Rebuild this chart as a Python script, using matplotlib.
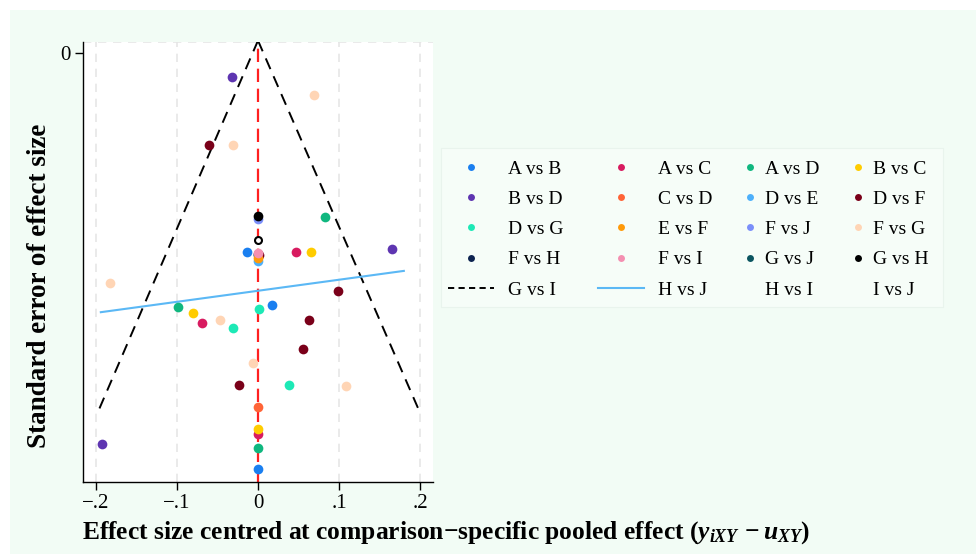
## comparison-adjusted funnel plot
import numpy as np
import matplotlib.pyplot as plt
from matplotlib.lines import Line2D
from matplotlib.patches import Rectangle

plt.rcParams['font.family'] = ['Liberation Serif', 'DejaVu Serif']
plt.rcParams['mathtext.fontset'] = 'custom'
plt.rcParams['mathtext.rm'] = 'Liberation Serif:bold'
plt.rcParams['mathtext.it'] = 'Liberation Serif:italic:bold'

# comparisons: (label, colour, centred effect, standard error)
labels = ["A vs B", "A vs C", "A vs D", "B vs C", "B vs D", "C vs D", "D vs E", "D vs F",
          "D vs G", "E vs F", "F vs J", "F vs G", "F vs H", "F vs I", "G vs J", "G vs H"]
colors = ["#1a7ff0", "#d81b60", "#10b77f", "#ffcc00", "#5e35b1", "#ff6437", "#4db0fb", "#7a0019",
          "#1de9b6", "#ff9a0a", "#7b8ffa", "#ffd5b5", "#0d2350", "#f48fb1", "#0b5560", "#000000"]
# comparisons hidden under others at 0
hidden = ["F vs J", "F vs H", "G vs J"]

x_ab = [-0.0136, 0.0175, 0.0]
se_ab = [0.0559, 0.0708, 0.1169]
x_ac = [0.047, -0.069, 0.0]
se_ac = [0.0559, 0.0758, 0.107]
x_ad = [0.083, -0.099, 0.0]
se_ad = [0.046, 0.0713, 0.111]
x_bc = [0.065, -0.080, 0.0]
se_bc = [0.0559, 0.073, 0.1056]
x_bd = [-0.032, 0.165, -0.192]
se_bd = [0.0067, 0.055, 0.1098]
x_cd = [0.0]
se_cd = [0.0994]
x_de = [0.0]
se_de = [0.0585]
x_df = [-0.061, 0.0015, 0.099, 0.063, 0.056, -0.023]
se_df = [0.0258, 0.0568, 0.0668, 0.075, 0.0831, 0.0933]
x_dg = [0.0015, -0.031, 0.038]
se_dg = [0.0719, 0.0773, 0.0933]
x_ef = [0.0]
se_ef = [0.0575]
x_fj = [0.0]
se_fj = [0.0466]
x_fg = [0.069, -0.031, -0.183, -0.047, -0.006, 0.109]
se_fg = [0.0118, 0.0258, 0.0646, 0.075, 0.0871, 0.0935]
x_fh = [0.0]
se_fh = [0.0565]
x_fi = [0.0]
se_fi = [0.0563]
x_gj = [0.0]
se_gj = [0.0566]
x_gh = [0.0]
se_gh = [0.0458]
xs = [x_ab, x_ac, x_ad, x_bc, x_bd, x_cd, x_de, x_df, x_dg, x_ef, x_fj, x_fg, x_fh, x_fi, x_gj, x_gh]
ses = [se_ab, se_ac, se_ad, se_bc, se_bd, se_cd, se_de, se_df, se_dg, se_ef, se_fj, se_fg, se_fh, se_fi, se_gj, se_gh]

# hollow marker
x_open = [0.0]
se_open = [0.0525]

# pseudo 95% limits and fitted line
se_top = -0.0035
se_max = 0.1
line_x = [-0.194, 0.180]
line_se = [0.0728, 0.0612]

fig = plt.figure(figsize=(9.76, 5.54), dpi=100, facecolor="white")
fig.patches.append(Rectangle((10 / 976, 0), 1, 1 - 10 / 554, transform=fig.transFigure,
                             facecolor="#f2fcf5", edgecolor="none", zorder=-10))
ax = fig.add_axes([83 / 976, 1 - 482 / 554, 350 / 976, 440 / 554])
ax.set_facecolor("white")

for xv in [-0.2, -0.1, 0.1, 0.2]:
    ax.axvline(xv, color="#e6e6e6", lw=1.2, ls=(0, (5, 4)), zorder=0)
ax.axhline(se_top + 0.0004, color="#e6e6e6", lw=1.2, ls=(0, (5, 4)), zorder=0)

se_f = np.array([se_top, se_max])
ax.plot(-1.96 * (se_f - se_top) * se_max / (se_max - se_top), se_f, color="black", ls=(0, (6, 4)), lw=1.4)
ax.plot(1.98 * (se_f - se_top) * se_max / (se_max - se_top), se_f, color="black", ls=(0, (6, 4)), lw=1.4)
ax.axvline(0, color="#ff2020", ls=(0, (6, 3)), lw=1.6, zorder=1)

for lab, c, xv, sv in zip(labels, colors, xs, ses):
    z = 2.5 if lab in hidden else 3
    ax.plot(xv, sv, "o", color=c, ms=7, mec="none", zorder=z)
ax.plot(x_open, se_open, "o", mfc="white", mec="black", mew=1.5, ms=5, zorder=4)
ax.plot(line_x, line_se, color="#5bb8f5", lw=1.5, zorder=2)

ax.set_xlim(-0.216, 0.216)
ax.set_ylim(0.1205, -0.0031)
ax.set_xticks([-0.2, -0.1, 0, 0.1, 0.2])
ax.set_xticklabels(["\u2212.2", "\u2212.1", "0", ".1", ".2"])
ax.set_yticks([0])
ax.set_yticklabels(["0"])
ax.tick_params(labelsize=15, length=6, width=1, direction="out", pad=3)
for s in ["top", "right"]:
    ax.spines[s].set_visible(False)
ax.spines["left"].set_linewidth(1.0)
ax.spines["bottom"].set_linewidth(1.0)

ax.set_ylabel("Standard error of effect size", fontsize=19.5, fontweight="bold")
ax.yaxis.set_label_coords(-0.089, 0.445)
ax.set_xlabel("Effect size centred at comparison\u2212specific pooled effect $(y_{iXY}\\,-u_{XY})$",
              fontsize=18.4, fontweight="bold", ha="left")
ax.xaxis.set_label_coords(-0.003, -0.084)

# legend, 4 columns filled row by row
fig.patches.append(Rectangle((441 / 976, 1 - 307 / 554), 502 / 976, 159 / 554, transform=fig.transFigure,
                             facecolor="#f6fdf8", edgecolor="#e9f4ed", lw=0.8, zorder=-5))
handles = [Line2D([], [], ls="none", marker="o", color=c, ms=5, mec="none") for c in colors]
handles += [Line2D([], [], color="black", ls=(0, (3.2, 2.2)), lw=1.4),
            Line2D([], [], color="#5bb8f5", lw=1.5),
            Line2D([], [], ls="none"), Line2D([], [], ls="none")]
all_labels = labels + ["G vs I", "H vs J", "H vs I", "I vs J"]
col_left = [448, 598, 742, 850]
col_hl = [2.35, 2.35, 0.8, 0.8]
col_pad = [0.72, 0.72, 0.4, 0.4]
for j in range(4):
    fig.legend(handles[j::4], all_labels[j::4], loc="upper left",
               bbox_to_anchor=(col_left[j] / 976, 1 - 160 / 554), frameon=False,
               fontsize=14, handlelength=col_hl[j], handletextpad=col_pad[j],
               labelspacing=0.65, borderpad=0, borderaxespad=0)

plt.savefig("out.png", dpi=100, facecolor=fig.get_facecolor())
